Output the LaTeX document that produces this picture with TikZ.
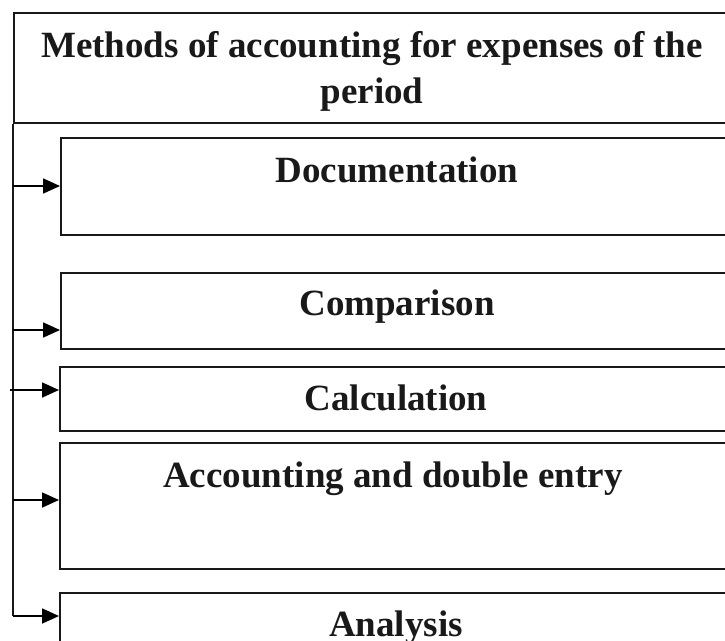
\documentclass[tikz,border=0pt]{standalone}
\usepackage{fontspec}
\setmainfont{Liberation Serif}
\usetikzlibrary{arrows.meta,calc}
\begin{document}
\begin{tikzpicture}[x=1pt,y=1pt,
  boxline/.style={draw=black!90,line width=1.7pt},
  lbl/.style={anchor=base,inner sep=0pt,font=\fontsize{37}{44}\selectfont\bfseries,text=black!90},
  arr/.style={line width=1.7pt,-{Triangle[length=17pt,width=15pt]}}]
\useasboundingbox (0,0) rectangle (725,-640);
\fill[white] (0,0) rectangle (725,-640);
% header
\node[boxline,rectangle,anchor=north west,minimum width=722pt,minimum height=110pt,inner sep=0pt] (hdr) at (13,-12) {};
\node[lbl] (t1) at (372,-57) {Methods of accounting for expenses of the};
\node[lbl] (t2) at (372,-103) {period};
% boxes
\node[boxline,rectangle,anchor=north west,minimum width=675pt,minimum height=97pt,inner sep=0pt] (b1) at (60,-137) {};
\node[boxline,rectangle,anchor=north west,minimum width=675pt,minimum height=76pt,inner sep=0pt] (b2) at (60,-272) {};
\node[boxline,rectangle,anchor=north west,minimum width=676pt,minimum height=64pt,inner sep=0pt] (b3) at (59,-366) {};
\node[boxline,rectangle,anchor=north west,minimum width=676pt,minimum height=126pt,inner sep=0pt] (b4) at (59,-442) {};
\node[boxline,rectangle,anchor=north west,minimum width=676pt,minimum height=80pt,inner sep=0pt] (b5) at (59,-592) {};
% labels
\node[lbl] (l1) at (397,-182) {Documentation};
\node[lbl] (l2) at (397,-315) {Comparison};
\node[lbl] (l3) at (396,-410) {Calculation};
\node[lbl] (l4) at (393,-487) {Accounting and double entry};
\node[lbl] (l5) at (396,-636) {Analysis};
% spine
\coordinate (s1) at (13,-186);
\coordinate (s2) at (13,-330);
\coordinate (s3) at (10,-390);
\coordinate (s4) at (13,-500);
\coordinate (s5) at (13,-616);
\draw[boxline] (hdr.south west) -- (s5);
\draw[arr] (s1) -- (s1 -| b1.west);
\draw[arr] (s2) -- (s2 -| b2.west);
\draw[arr] (s3) -- (s3 -| b3.west);
\draw[arr] (s4) -- (s4 -| b4.west);
\draw[arr] (s5) -- (s5 -| b5.west);
\end{tikzpicture}
\end{document}
